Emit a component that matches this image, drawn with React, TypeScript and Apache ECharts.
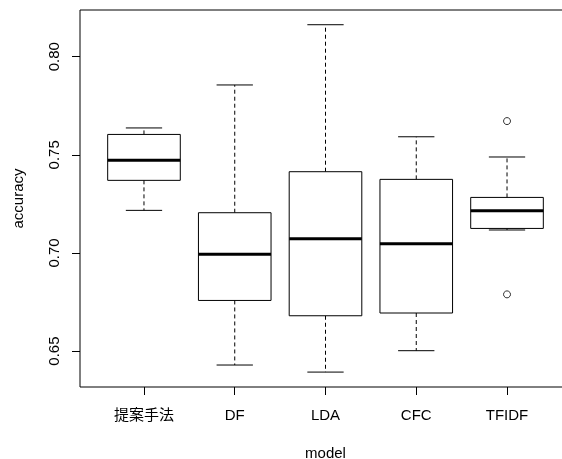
import React, { useEffect, useRef } from "react";
import * as echarts from "echarts";

const categories = ["提案手法", "DF", "LDA", "CFC", "TFIDF"];
const lowerWhisker = [0.7217, 0.6429, 0.6393, 0.6502, 0.7117];
const q1 = [0.737, 0.6758, 0.668, 0.6694, 0.7125];
const median = [0.7473, 0.6993, 0.7072, 0.7047, 0.7215];
const q3 = [0.7604, 0.7205, 0.7414, 0.7375, 0.7283];
const upperWhisker = [0.7637, 0.7856, 0.8163, 0.7592, 0.7489];
const outlierCategory = ["TFIDF", "TFIDF"];
const outlierValue = [0.7672, 0.6789];
const yTicks = [0.65, 0.7, 0.75, 0.8];

const FONT = "'Liberation Sans', Arial, 'Noto Sans CJK JP', sans-serif";

export default function App() {
  const ref = useRef<HTMLDivElement>(null);
  useEffect(() => {
    if (!ref.current) return;
    const chart = echarts.init(ref.current, null, {
      renderer: "svg",
      width: 562,
      height: 459,
    });
    const boxData = categories.map((c, i) => [
      i + 1,
      lowerWhisker[i],
      q1[i],
      median[i],
      q3[i],
      upperWhisker[i],
    ]);
    const outData = outlierCategory.map((c, i) => [
      categories.indexOf(c) + 1,
      outlierValue[i],
    ]);
    const catTicks = categories.map((_, i) => i + 1);
    const stroke = "#000";
    chart.setOption({
      animation: false,
      textStyle: { fontFamily: FONT },
      grid: {
        left: 80,
        top: 10,
        right: -9,
        bottom: 72,
        show: true,
        borderColor: "#000",
        borderWidth: 1,
        backgroundColor: "transparent",
        outerBoundsMode: "none",
        containLabel: false,
      },
      xAxis: {
        type: "value",
        min: 0.295,
        max: 5.705,
        name: "model",
        nameLocation: "middle",
        nameGap: 59,
        nameTextStyle: {
          fontSize: 15,
          lineHeight: 12,
          color: "#000",
          fontFamily: FONT,
        },
        axisLine: { show: false },
        splitLine: { show: false },
        axisTick: {
          show: true,
          length: 8,
          customValues: catTicks,
          lineStyle: { color: "#000", width: 1 },
        },
        axisLabel: {
          customValues: catTicks,
          margin: 20,
          fontSize: 15,
          color: "#000",
          fontFamily: FONT,
          formatter: (v: number) => categories[Math.round(v) - 1] ?? "",
        },
      },
      yAxis: {
        type: "value",
        min: 0.6317,
        max: 0.8238,
        name: "accuracy",
        nameLocation: "middle",
        nameRotate: 90,
        nameGap: 55,
        nameTextStyle: { fontSize: 15, color: "#000", fontFamily: FONT },
        axisLine: { show: false },
        splitLine: { show: false },
        axisTick: {
          show: true,
          length: 8,
          customValues: yTicks,
          lineStyle: { color: "#000", width: 1 },
        },
        axisLabel: {
          customValues: yTicks,
          rotate: 90,
          margin: 19,
          fontSize: 15,
          color: "#000",
          fontFamily: FONT,
          formatter: (v: number) => v.toFixed(2),
        },
      },
      series: [
        {
          type: "custom",
          data: boxData,
          renderItem: (params: any, api: any) => {
            const x = api.value(0);
            const lw = api.value(1);
            const b1 = api.value(2);
            const md = api.value(3);
            const b3 = api.value(4);
            const uw = api.value(5);
            const pTopLeft = api.coord([x - 0.4, b3]);
            const pBotRight = api.coord([x + 0.4, b1]);
            const pMedL = api.coord([x - 0.4, md]);
            const pMedR = api.coord([x + 0.4, md]);
            const pUw = api.coord([x, uw]);
            const pLw = api.coord([x, lw]);
            const pCapL = api.coord([x - 0.2, uw]);
            const pCapR = api.coord([x + 0.2, uw]);
            const pCapLL = api.coord([x - 0.2, lw]);
            const pCapLR = api.coord([x + 0.2, lw]);
            const cx = pUw[0];
            return {
              type: "group",
              children: [
                {
                  type: "line",
                  shape: { x1: cx, y1: pTopLeft[1], x2: cx, y2: pUw[1] },
                  style: { stroke, lineWidth: 1, lineDash: [4, 3] },
                },
                {
                  type: "line",
                  shape: { x1: cx, y1: pBotRight[1], x2: cx, y2: pLw[1] },
                  style: { stroke, lineWidth: 1, lineDash: [4, 3] },
                },
                {
                  type: "line",
                  shape: { x1: pCapL[0], y1: pCapL[1], x2: pCapR[0], y2: pCapR[1] },
                  style: { stroke, lineWidth: 1 },
                },
                {
                  type: "line",
                  shape: { x1: pCapLL[0], y1: pCapLL[1], x2: pCapLR[0], y2: pCapLR[1] },
                  style: { stroke, lineWidth: 1 },
                },
                {
                  type: "rect",
                  shape: {
                    x: pTopLeft[0],
                    y: pTopLeft[1],
                    width: pBotRight[0] - pTopLeft[0],
                    height: pBotRight[1] - pTopLeft[1],
                  },
                  style: { fill: "#fff", stroke, lineWidth: 1 },
                },
                {
                  type: "line",
                  shape: { x1: pMedL[0], y1: pMedL[1], x2: pMedR[0], y2: pMedR[1] },
                  style: { stroke, lineWidth: 3 },
                },
              ],
            };
          },
        },
        {
          type: "scatter",
          data: outData,
          symbol: "circle",
          symbolSize: 7,
          itemStyle: { color: "#fff", borderColor: "#000", borderWidth: 1 },
        },
      ],
    });
    return () => chart.dispose();
  }, []);
  return (
    <div
      ref={ref}
      style={{ position: "fixed", left: 0, top: 0, width: 562, height: 459 }}
    />
  );
}
